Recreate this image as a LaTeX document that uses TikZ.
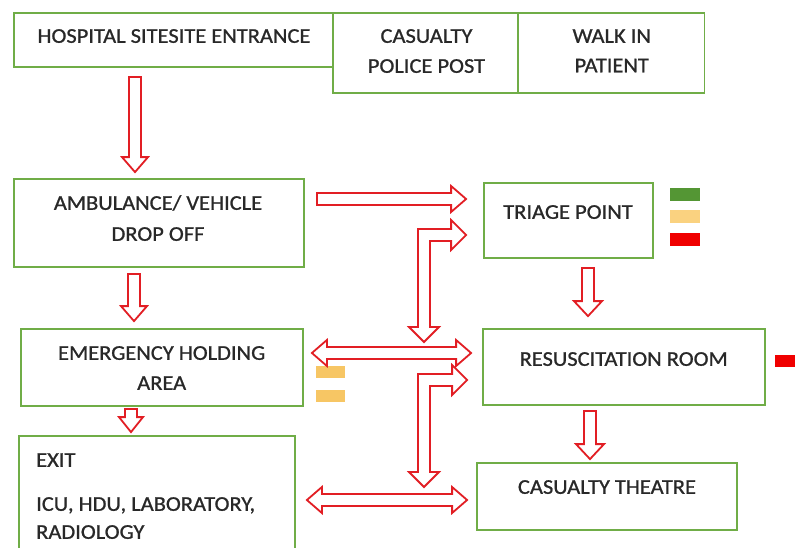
\documentclass[tikz,border=0pt]{standalone}
\usepackage{fontspec}
\setmainfont{Carlito}[FakeStretch=1.07, FakeBold=0.9]
\usetikzlibrary{calc}
\definecolor{boxgreen}{RGB}{112,173,71}
\definecolor{arrred}{RGB}{226,30,36}
\definecolor{txt}{RGB}{40,40,40}
\definecolor{sqgreen}{RGB}{84,150,52}
\definecolor{sqyellow}{RGB}{250,210,128}
\definecolor{sqorange}{RGB}{247,198,100}
\definecolor{sqred}{RGB}{240,0,0}
\tikzset{
  box/.style={draw=boxgreen, line width=1.8pt, rectangle, inner sep=0pt},
  lbl/.style={text=txt, font=\fontsize{21}{25}\selectfont, inner sep=0pt, anchor=base},
  hollowarrow/.style={draw=arrred, fill=white, line width=1.8pt, line join=miter},
}
% straight hollow arrow, head at the end
\newcommand\blkarrow[3][13pt]{%
  \coordinate (bA) at (#2); \coordinate (bB) at (#3);
  \coordinate (bC) at ($(bB)!15pt!(bA)$);
  \draw[hollowarrow] ($(bA)!6pt!90:(bB)$) -- ($(bC)!6pt!90:(bB)$) -- ($(bC)!#1!90:(bB)$) -- (bB)
     -- ($(bC)!#1!-90:(bB)$) -- ($(bC)!6pt!-90:(bB)$) -- ($(bA)!6pt!-90:(bB)$) -- cycle;}
% straight hollow arrow, heads at both ends
\newcommand\dblarrow[3][13pt]{%
  \coordinate (bA) at (#2); \coordinate (bB) at (#3);
  \coordinate (bC) at ($(bA)!15pt!(bB)$);
  \coordinate (bD) at ($(bB)!15pt!(bA)$);
  \draw[hollowarrow] (bA) -- ($(bC)!#1!90:(bB)$) -- ($(bC)!6pt!90:(bB)$) -- ($(bD)!6pt!90:(bB)$)
     -- ($(bD)!#1!90:(bB)$) -- (bB) -- ($(bD)!#1!-90:(bB)$) -- ($(bD)!6pt!-90:(bB)$)
     -- ($(bC)!6pt!-90:(bB)$) -- ($(bC)!#1!-90:(bB)$) -- cycle;}
% elbow hollow arrow: one head pointing right (#1), one pointing down (#2)
\newcommand\elbarrow[2]{%
  \coordinate (eR) at (#1); \coordinate (eD) at (#2);
  \coordinate (eK) at (eD |- eR);
  \draw[hollowarrow] ([shift={(-6,-6)}]eK) -- ([shift={(-15,-6)}]eR) -- ([shift={(-15,-15)}]eR) -- (eR)
     -- ([shift={(-15,15)}]eR) -- ([shift={(-15,6)}]eR) -- ([shift={(6,6)}]eK) -- ([shift={(6,-15)}]eD)
     -- ([shift={(15,-15)}]eD) -- (eD) -- ([shift={(-15,-15)}]eD) -- ([shift={(-6,-15)}]eD) -- cycle;}
\begin{document}
\begin{tikzpicture}[x=1pt, y=-1pt]
\useasboundingbox (0,0) rectangle (795,547);
\fill[white] (0,0) rectangle (795,547);
\clip (0,0) rectangle (795,547);

% boxes
\node[box, minimum width=319pt, minimum height=54pt] (hosp) at (173.5,40) {};
\node[box, minimum width=185pt, minimum height=80pt] (cas) at (425.5,53) {};
\node[box, minimum width=186pt, minimum height=80pt] (walk) at (611.5,53) {};
\node[box, minimum width=290pt, minimum height=88pt] (amb) at (159,223) {};
\node[box, minimum width=169pt, minimum height=75pt] (triage) at (568.5,220.5) {};
\node[box, minimum width=282pt, minimum height=77pt] (emh) at (162,367.5) {};
\node[box, minimum width=282pt, minimum height=76pt] (resus) at (624,367) {};
\node[box, minimum width=260pt, minimum height=67pt] (theatre) at (607,496.5) {};
\node[box, minimum width=276pt, minimum height=128pt] (exit) at (157,500) {};

% texts
\node[lbl] (hospT) at (174,42.8) {HOSPITAL SITESITE ENTRANCE};
\node[lbl] (casT1) at (426.5,42.8) {CASUALTY};
\node[lbl] (casT2) at (426.5,72.8) {POLICE POST};
\node[lbl] (walkT1) at (611.7,42.8) {WALK IN};
\node[lbl] (walkT2) at (611.7,72.3) {PATIENT};
\node[lbl] (ambT1) at (158,209.8) {AMBULANCE/ VEHICLE};
\node[lbl] (ambT2) at (158,240.8) {DROP OFF};
\node[lbl] (triT) at (568,218.8) {TRIAGE POINT};
\node[lbl] (emhT1) at (161.7,359.8) {EMERGENCY HOLDING};
\node[lbl] (emhT2) at (161.7,389.8) {AREA};
\node[lbl] (resT) at (623.7,365.8) {RESUSCITATION ROOM};
\node[lbl] (theT) at (607,493.8) {CASUALTY THEATRE};
\node[lbl, anchor=base west] (exitT1) at (36,466.8) {EXIT};
\node[lbl, anchor=base west] (exitT2) at (36,510.8) {ICU, HDU, LABORATORY,};
\node[lbl, anchor=base west] (exitT3) at (36,538.8) {RADIOLOGY};

% colour markers
\fill[sqgreen] (670,188) rectangle (700,201);
\fill[sqyellow] (670,210) rectangle (700,223);
\fill[sqred] (670,233) rectangle (700,246);
\fill[sqorange] (316,366) rectangle (345,378);
\fill[sqorange] (316,390) rectangle (345,402);
\fill[sqred] (775,355) rectangle (800,367);

% connectors
\blkarrow{[shift={(-38.5,9)}]hosp.south}{[shift={(-24,-6)}]amb.north}
\blkarrow{[shift={(-25,6)}]amb.south}{[shift={(-28,-7)}]emh.north}
\blkarrow[12pt]{[shift={(-31,2)}]emh.south}{[shift={(-26,-3)}]exit.north}
\blkarrow[14pt]{[shift={(19.5,9)}]triage.south}{[shift={(-36,-12)}]resus.north}
\blkarrow[14pt]{[shift={(-34,5)}]resus.south}{[shift={(-17,-3)}]theatre.north}
\blkarrow{[shift={(12,-24)}]amb.east}{[shift={(-17,-21.5)}]triage.west}
\dblarrow{[shift={(8,-14.5)}]emh.east}{[shift={(-11,-14)}]resus.west}
\dblarrow{[shift={(11,0)}]exit.east}{[shift={(-9,3.5)}]theatre.west}
\coordinate (upDown) at (424,342);
\coordinate (lowDown) at (424,487);
\elbarrow{[shift={(-17,14.5)}]triage.west}{upDown}
\elbarrow{[shift={(-15,13)}]resus.west}{lowDown}
\end{tikzpicture}
\end{document}
